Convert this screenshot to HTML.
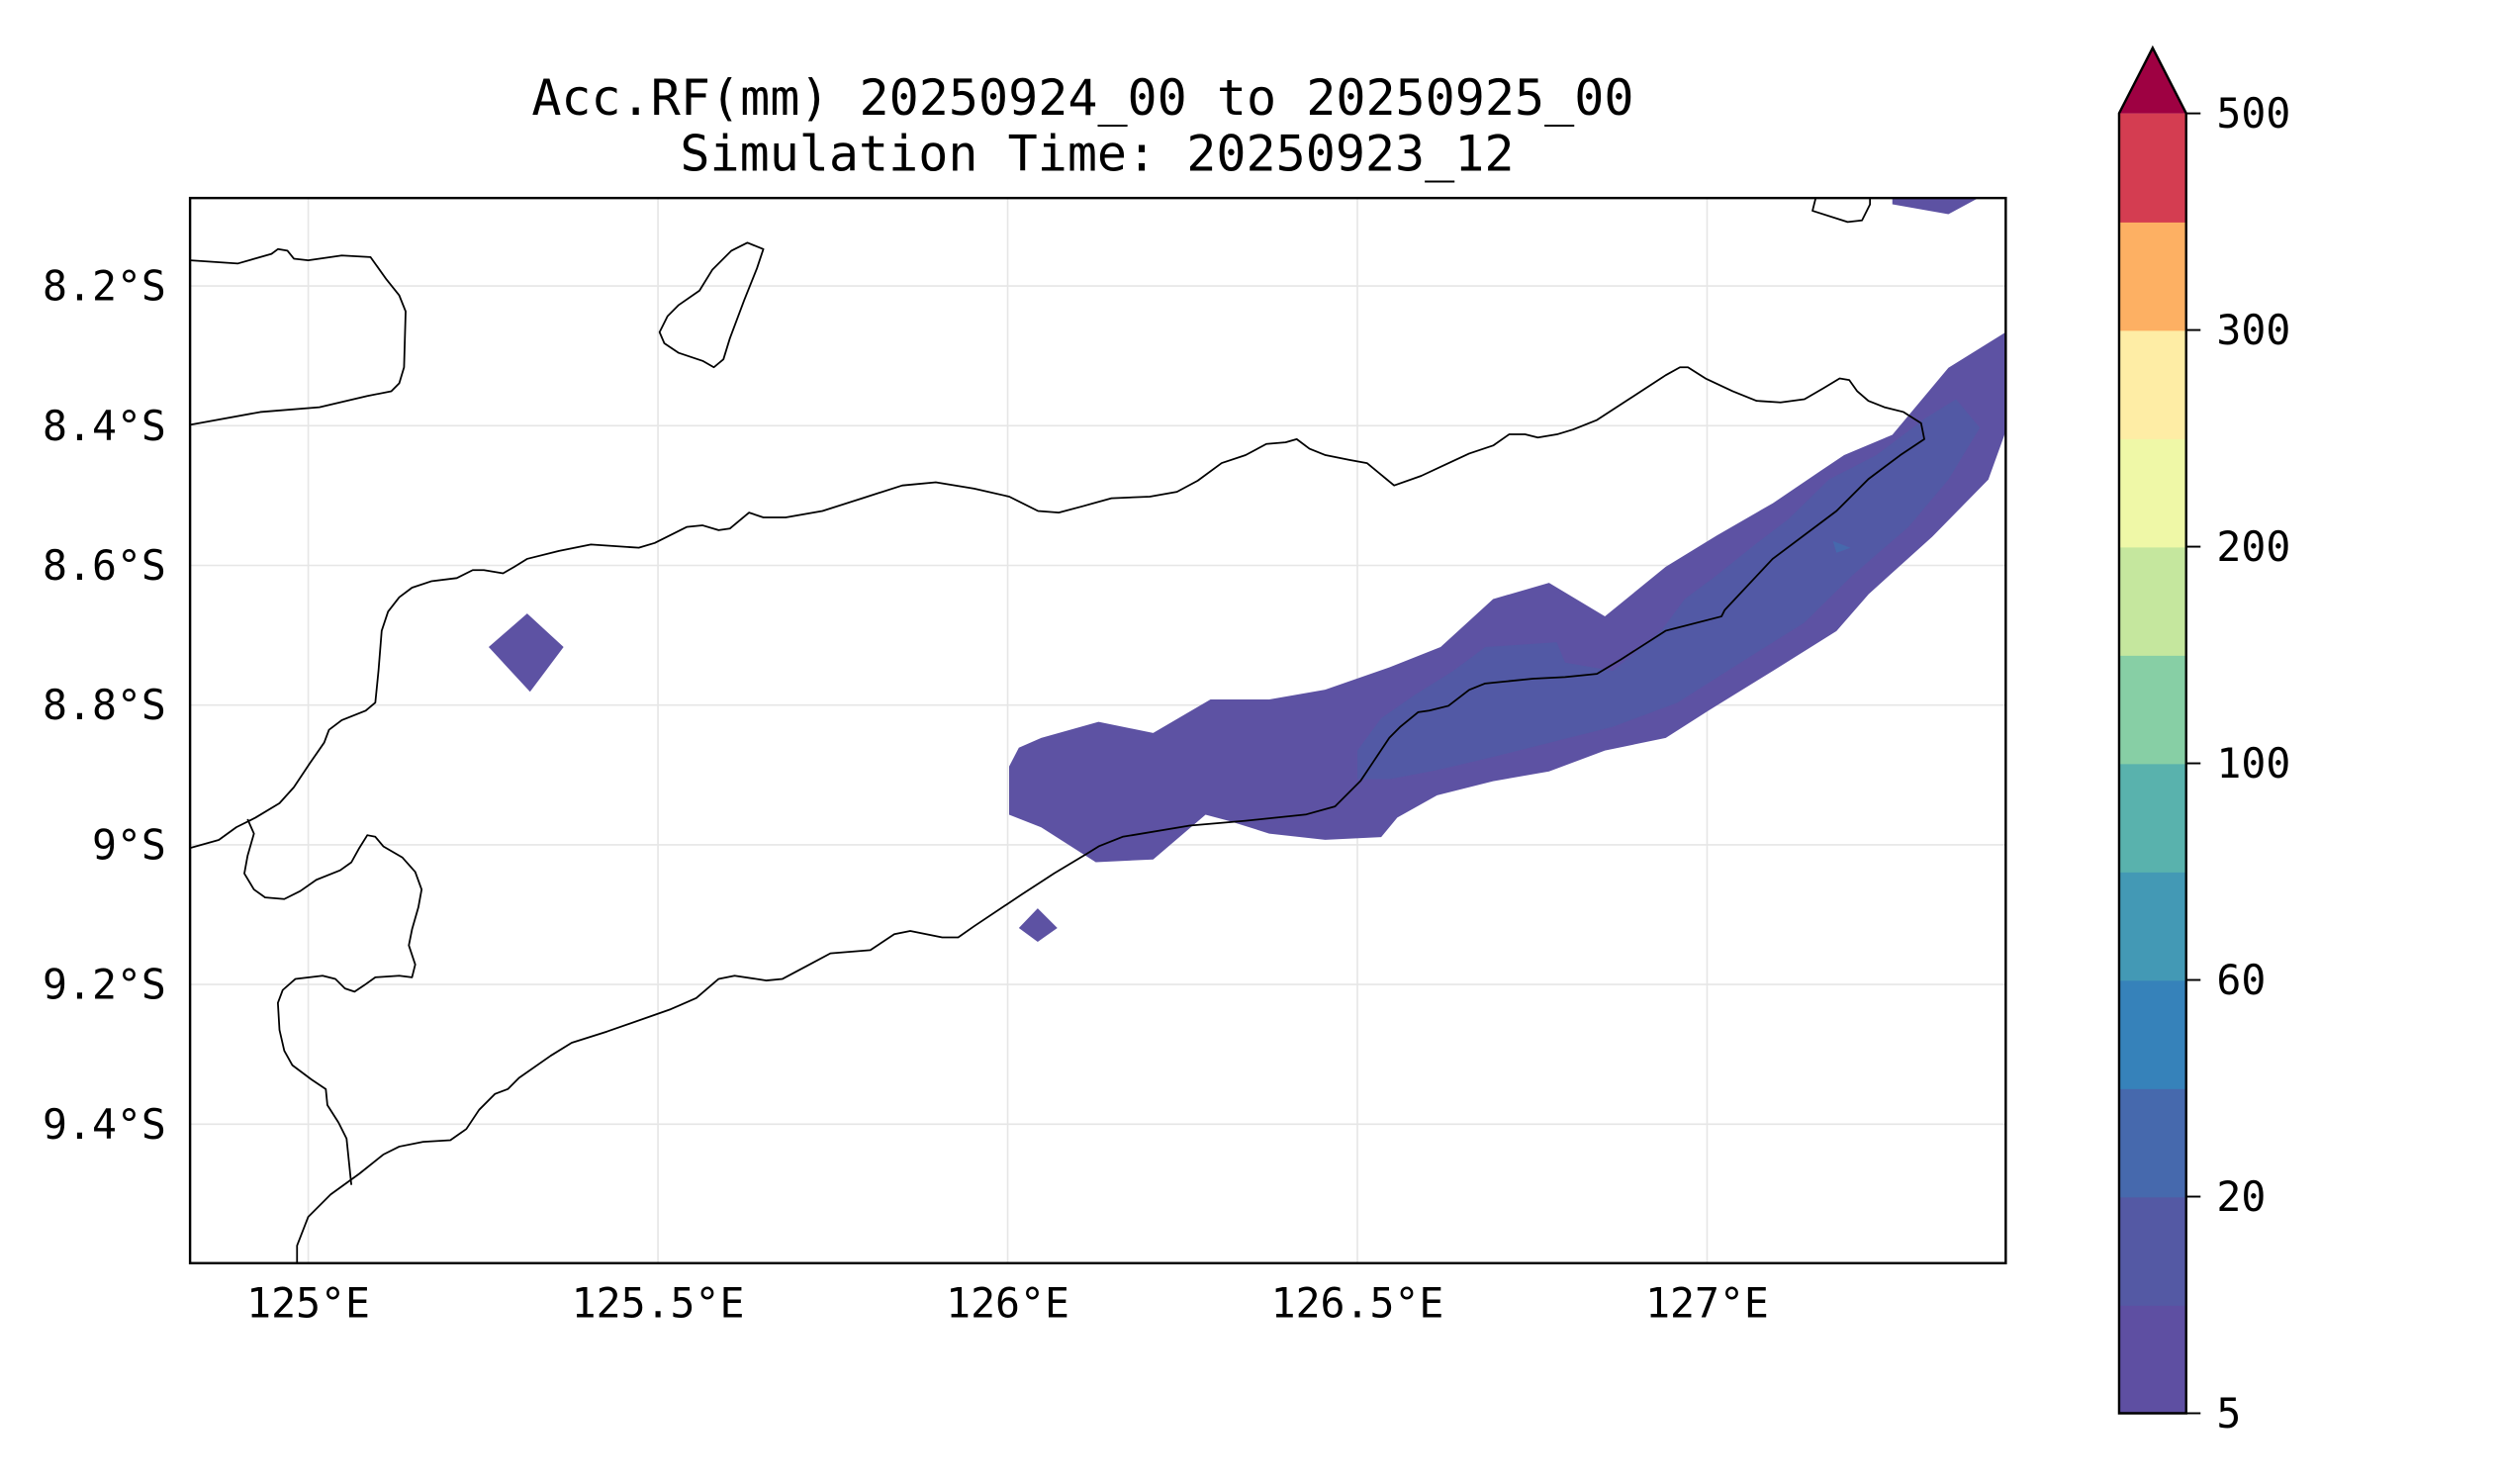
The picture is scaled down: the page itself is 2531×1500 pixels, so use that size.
<!DOCTYPE html>
<html><head><meta charset="utf-8">
<style>
html,body{margin:0;padding:0;background:#fff;}
svg{display:block;}
text{font-family:"DejaVu Sans Mono","Liberation Mono",monospace;fill:#000;}
</style></head>
<body>
<svg id="fig" width="2531" height="1500" viewBox="0 0 1568 929.3" xmlns="http://www.w3.org/2000/svg">
<defs><clipPath id="plotclip"><rect x="119" y="124" width="1137" height="667"/></clipPath></defs>
<text x="678" y="72" font-size="31" text-anchor="middle">Acc.RF(mm) 20250924_00 to 20250925_00</text>
<text x="687" y="107" font-size="31" text-anchor="middle">Simulation Time: 20250923_12</text>
<g id="grid"></g>
<g id="rain" clip-path="url(#plotclip)"></g>
<g clip-path="url(#plotclip)" fill="none" stroke="#000" stroke-width="1.1" stroke-linejoin="round">
<path d="M119,163 L149,165 L170,159 L174,156 L180,157 L184,162 L193,163 L214,160 L232,161 L242,175 L250,185 L254,195 L253,230 L250,240 L245,245 L230,248 L200,255 L163,258 L119,266"/>
<path d="M468,152 L478,156 L474,168 L466,188 L457,212 L453,225 L447,230 L440,226 L425,221 L416,215 L413,208 L418,198 L425,191 L438,182 L446,169 L458,157 Z"/>
<path d="M1137,124 L1135,132 L1157,139 L1166,138 L1171,128 L1171,124"/>
<path d="M119,531 L137,526 L148,518 L160,512 L175,503 L184,493 L194,478 L203,465 L206,457 L214,451 L229,445 L235,440 L237,420 L239,395 L243,383 L250,374 L258,368 L270,364 L286,362 L296,357 L303,357 L315,359 L322,355 L330,350 L350,345 L370,341 L400,343 L410,340 L430,330 L440,329 L450,332 L457,331 L469,321 L478,324 L492,324 L515,320 L540,312 L565,304 L586,302 L610,306 L632,311 L650,320 L663,321 L678,317 L696,312 L720,311 L737,308 L750,301 L765,290 L780,285 L793,278 L805,277 L812,275 L820,281 L830,285 L845,288 L856,290 L873,304 L890,298 L905,291 L920,284 L935,279 L945,272 L955,272 L963,274 L975,272 L985,269 L1000,263 L1020,250 L1043,235 L1052,230 L1057,230 L1068,237 L1085,245 L1100,251 L1115,252 L1130,250 L1142,243 L1152,237 L1158,238 L1163,245 L1170,251 L1180,255 L1192,258 L1203,265 L1205,275 L1190,285 L1170,300 L1150,320 L1110,350 L1080,382 L1078,386 L1043,395 L1015,413 L1000,422 L980,424 L960,425 L940,427 L930,428 L920,432 L907,442 L895,445 L888,446 L877,455 L870,462 L860,477 L852,489 L836,505 L818,510 L780,514 L745,517 L703,524 L688,530 L680,535 L660,547 L640,560 L610,580 L600,587 L590,587 L570,583 L560,585 L545,595 L520,597 L505,605 L490,613 L480,614 L460,611 L450,613 L436,625 L420,632 L380,646 L358,653 L345,661 L325,675 L318,682 L310,685 L300,695 L292,707 L282,714 L265,715 L250,718 L240,723 L225,735 L207,748 L193,762 L186,780 L186,791"/>
<path d="M155,513 L159,522 L155,536 L153,547 L159,557 L166,562 L178,563 L188,558 L198,551 L213,545 L220,540 L225,531 L230,523 L235,524 L240,530 L252,537 L260,546 L264,557 L262,568 L258,582 L256,592 L260,604 L258,612 L250,611 L235,612 L228,617 L222,621 L216,619 L210,613 L202,611 L185,613 L177,620 L174,628 L175,645 L178,658 L183,667 L195,676 L204,682 L205,692 L212,703 L217,713 L220,742"/>
</g>
<rect x="119" y="124" width="1137" height="667" fill="none" stroke="#000" stroke-width="1.5"/>
<g id="axes"></g>
<g id="cbar"></g>
</svg>
<script>
// Map axis extents
const lonMin = 124.831, lonMax = 127.427, latTop = 8.074, latBot = 9.599;
const xTicks = [125, 125.5, 126, 126.5, 127];
const xTickLabels = ["125°E","125.5°E","126°E","126.5°E","127°E"];
const yTicks = [8.2, 8.4, 8.6, 8.8, 9.0, 9.2, 9.4];
const yTickLabels = ["8.2°S","8.4°S","8.6°S","8.8°S","9°S","9.2°S","9.4°S"];
// Rainfall contour polygons [lon, latS]
const rainOuter = [[126.002,8.888],[126.016,8.861],[126.048,8.847],[126.130,8.824],[126.208,8.840],[126.290,8.792],[126.374,8.792],[126.454,8.778],[126.546,8.746],[126.619,8.717],[126.694,8.648],[126.774,8.625],[126.854,8.673],[126.941,8.602],[127.014,8.557],[127.094,8.511],[127.162,8.465],[127.196,8.442],[127.265,8.413],[127.345,8.317],[127.427,8.266],[127.427,8.408],[127.402,8.477],[127.322,8.559],[127.231,8.641],[127.185,8.694],[127.094,8.751],[127.002,8.808],[126.941,8.847],[126.854,8.865],[126.774,8.895],[126.694,8.909],[126.614,8.929],[126.557,8.961],[126.534,8.989],[126.454,8.993],[126.374,8.984],[126.317,8.966],[126.283,8.957],[126.208,9.021],[126.126,9.025],[126.048,8.975],[126.002,8.957]];
const rainInner = [[126.500,8.865],[126.534,8.819],[126.580,8.787],[126.637,8.751],[126.683,8.717],[126.785,8.710],[126.797,8.739],[126.865,8.751],[126.934,8.694],[126.968,8.648],[127.014,8.614],[127.071,8.568],[127.116,8.534],[127.174,8.477],[127.242,8.442],[127.311,8.390],[127.356,8.362],[127.390,8.403],[127.345,8.477],[127.288,8.545],[127.208,8.614],[127.139,8.682],[127.048,8.739],[126.957,8.797],[126.865,8.831],[126.774,8.854],[126.683,8.877],[126.614,8.893],[126.546,8.906],[126.500,8.906]];
const rainStrip = [[127.265,8.070],[127.395,8.070],[127.345,8.097],[127.265,8.083]];
const rainDiamond1 = [[125.258,8.717],[125.313,8.669],[125.365,8.717],[125.317,8.781]];
const rainDiamond2 = [[126.016,9.119],[126.043,9.091],[126.071,9.119],[126.043,9.139]];
const rainSpot = [[127.180,8.565],[127.205,8.575],[127.185,8.582]];
// Colorbar levels
const cbarColors = ["#5e4fa2","#5459a4","#4669ad","#3682ba","#4399b5","#59b2ad","#87cfa5","#c5e79e","#eff8a7","#feeda5","#fdb063","#d43d51"];
const cbarExtendColor = "#9e0142";
const cbarTickLabels = ["5","20","60","100","200","300","500"];

const NS = "http://www.w3.org/2000/svg";
const PL = 119, PR = 1256, PT = 124, PB = 791;
function xScale(lon){ return PL + (lon - lonMin) / (lonMax - lonMin) * (PR - PL); }
function yScale(lat){ return PT + (lat - latTop) / (latBot - latTop) * (PB - PT); }
function mk(tag, parent){ const e = document.createElementNS(NS, tag); parent.appendChild(e); return e; }

const grid = document.getElementById('grid');
xTicks.forEach(function(v){
  const l = mk('line', grid);
  
  
  l.setAttribute('x1', xScale(v)); l.setAttribute('x2', xScale(v));
  l.setAttribute('y1', PT); l.setAttribute('y2', PB);
  l.setAttribute('stroke', '#e6e6e6'); l.setAttribute('stroke-width', '1');
});
yTicks.forEach(function(v){
  const l = mk('line', grid);
  
  
  l.setAttribute('x1', PL); l.setAttribute('x2', PR);
  l.setAttribute('y1', yScale(v)); l.setAttribute('y2', yScale(v));
  l.setAttribute('stroke', '#e6e6e6'); l.setAttribute('stroke-width', '1');
});

const rain = document.getElementById('rain');
function poly(pts, color, name){
  const p = mk('polygon', rain);
  
  
  p.setAttribute('points', pts.map(function(q){ return xScale(q[0]).toFixed(1) + ',' + yScale(q[1]).toFixed(1); }).join(' '));
  p.setAttribute('fill', color);
}
poly(rainOuter, "#5d52a3", "rain-5-10mm-band");
poly(rainInner, "#5259a5", "rain-10-20mm-band");
poly(rainStrip, "#5d52a3", "rain-north-strip");
poly(rainDiamond1, "#5d52a3", "rain-west-cell");
poly(rainDiamond2, "#5d52a3", "rain-small-cell");
poly(rainSpot, "#4669ad", "rain-20mm-spot");

const axes = document.getElementById('axes');
xTicks.forEach(function(v, i){
  const t = mk('text', axes);
  
  
  t.setAttribute('x', xScale(v)); t.setAttribute('y', 825);
  t.setAttribute('font-size', '25.7'); t.setAttribute('text-anchor', 'middle');
  t.textContent = xTickLabels[i];
});
yTicks.forEach(function(v, i){
  const t = mk('text', axes);
  
  
  t.setAttribute('x', 104); t.setAttribute('y', yScale(v) + 9);
  t.setAttribute('font-size', '25.7'); t.setAttribute('text-anchor', 'end');
  t.textContent = yTickLabels[i];
});

const cbar = document.getElementById('cbar');
const CL = 1327, CR = 1369, CT = 71, CB = 885, CTip = 30;
const segH = (CB - CT) / cbarColors.length;
cbarColors.forEach(function(c, i){
  const r = mk('rect', cbar);
  
  
  r.setAttribute('x', CL); r.setAttribute('y', CB - (i + 1) * segH);
  r.setAttribute('width', CR - CL); r.setAttribute('height', segH + 0.5);
  r.setAttribute('fill', c);
});
const tip = mk('polygon', cbar);


tip.setAttribute('points', CL + ',' + CT + ' ' + ((CL + CR) / 2) + ',' + CTip + ' ' + CR + ',' + CT);
tip.setAttribute('fill', cbarExtendColor);
const outline = mk('polygon', cbar);


outline.setAttribute('points', CL + ',' + CB + ' ' + CL + ',' + CT + ' ' + ((CL + CR) / 2) + ',' + CTip + ' ' + CR + ',' + CT + ' ' + CR + ',' + CB);
outline.setAttribute('fill', 'none'); outline.setAttribute('stroke', '#000'); outline.setAttribute('stroke-width', '1.5');
cbarTickLabels.forEach(function(lab, i){
  const y = CB - i * 2 * segH;
  const l = mk('line', cbar);
  
  
  l.setAttribute('x1', CR); l.setAttribute('x2', CR + 9);
  l.setAttribute('y1', y); l.setAttribute('y2', y);
  l.setAttribute('stroke', '#000'); l.setAttribute('stroke-width', '1.2');
  const t = mk('text', cbar);
  
  
  t.setAttribute('x', 1388); t.setAttribute('y', y + 9);
  t.setAttribute('font-size', '25.7');
  t.textContent = lab;
});
</script>
</body></html>
